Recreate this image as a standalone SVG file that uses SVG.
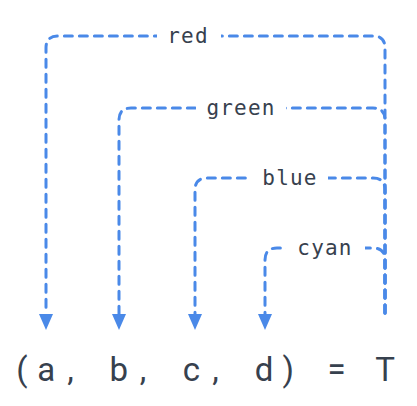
<svg xmlns="http://www.w3.org/2000/svg" width="417" height="406" viewBox="0 0 417 406">
<style>
.c{fill:none;stroke:#4a89e8;stroke-width:3;stroke-dasharray:8 7;stroke-linecap:round}
.lbl{font-family:"DejaVu Sans Mono",monospace;font-size:21px;fill:#37414e;text-anchor:middle;letter-spacing:1.2px}
.bg{fill:#ffffff}
.eq{font-family:Roboto,"Liberation Sans",sans-serif;font-size:33px;fill:#37414e;text-anchor:middle}
</style>
<defs>
<marker id="ah" viewBox="0 0 16 14" refX="0" refY="7" markerWidth="16" markerHeight="14" markerUnits="userSpaceOnUse" orient="auto">
<path d="M0,0 L16,7 L0,14 z" fill="#4a89e8"/>
</marker>
</defs>
<rect width="417" height="406" fill="#ffffff"/>
<g id="connectors">
<path class="c" d="M385,313 V48 Q385,36 373,36 H58 Q46,36 46,48 V314" marker-end="url(#ah)"/>
<path class="c" d="M385,313 V120 Q385,108 373,108 H131 Q119,108 119,120 V314" marker-end="url(#ah)"/>
<path class="c" d="M385,313 V190 Q385,178 373,178 H207 Q195,178 195,190 V314" marker-end="url(#ah)"/>
<path class="c" d="M385,313 V260 Q385,248 373,248 H277 Q265,248 265,260 V314" marker-end="url(#ah)"/>
</g>
<g id="label-red">
<rect class="bg" x="157" y="24" width="64" height="24"/>
<text class="lbl" x="188" y="43">red</text>
</g>
<g id="label-green">
<rect class="bg" x="196" y="96" width="90" height="24"/>
<text class="lbl" x="241" y="115">green</text>
</g>
<g id="label-blue">
<rect class="bg" x="250" y="166" width="78" height="24"/>
<text class="lbl" x="290" y="185">blue</text>
</g>
<g id="label-cyan">
<rect class="bg" x="286" y="236" width="79" height="24"/>
<text class="lbl" x="325" y="255">cyan</text>
</g>
<g id="expression">
<text class="eq" x="22 46.2 70.4 94.6 118.8 143 167.2 191.4 215.6 239.8 264 288.2 312.4 336.6 360.8 385" y="381" xml:space="preserve">(a, b, c, d) = T</text>
</g>
</svg>
